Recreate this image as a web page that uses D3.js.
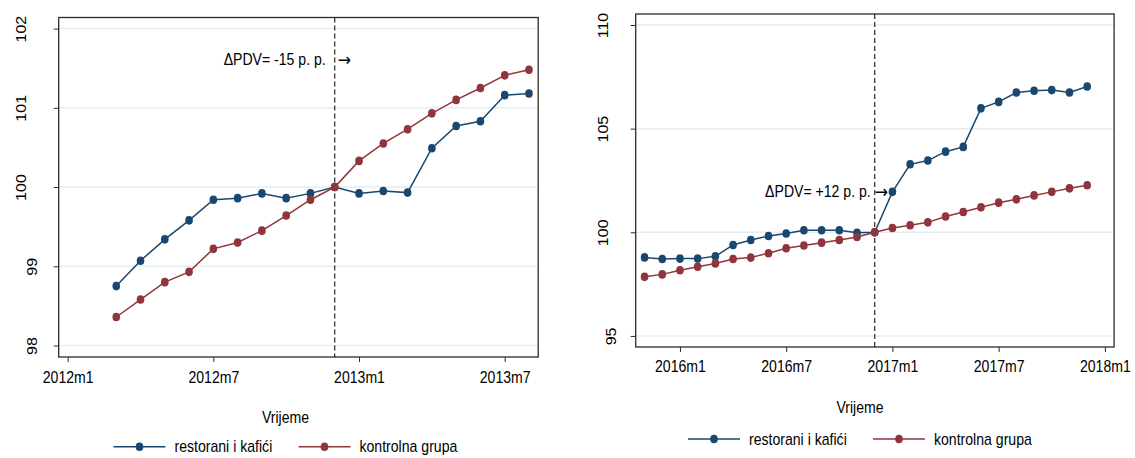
<!DOCTYPE html>
<html><head><meta charset="utf-8">
<script src="https://cdn.jsdelivr.net/npm/d3@7"></script>
<style>
html,body{margin:0;padding:0;background:#fff;}
svg text{font-family:"Liberation Sans",Arial,sans-serif;fill:#000;}
</style></head>
<body>
<svg id="chart" width="1135" height="458"></svg>
<script>
// ---------- DATA ----------
const seriesNames = ["restorani i kafići", "kontrolna grupa"];
const xTitle = "Vrijeme";

// Left panel (2012–2013)
const leftMonths = ["2012m3","2012m4","2012m5","2012m6","2012m7","2012m8","2012m9","2012m10","2012m11","2012m12",
                    "2013m1","2013m2","2013m3","2013m4","2013m5","2013m6","2013m7","2013m8"];
const leftRestorani = [98.75,99.07,99.34,99.58,99.84,99.86,99.92,99.86,99.92,100.00,
                       99.92,99.95,99.93,100.49,100.77,100.83,101.16,101.18];
const leftKontrolna = [98.36,98.58,98.80,98.93,99.22,99.30,99.45,99.64,99.84,100.00,
                       100.33,100.55,100.73,100.93,101.10,101.25,101.41,101.48];
const leftXTicks = ["2012m1","2012m7","2013m1","2013m7"];
const leftYTicks = [98,99,100,101,102];
const leftEvent = "2012m12";
const leftNote = "ΔPDV= -15 p. p.";
const leftNoteY = 101.61;

// Right panel (2015–2017)
const rightMonths = ["2015m11","2015m12","2016m1","2016m2","2016m3","2016m4","2016m5","2016m6","2016m7","2016m8",
                     "2016m9","2016m10","2016m11","2016m12","2017m1","2017m2","2017m3","2017m4","2017m5","2017m6",
                     "2017m7","2017m8","2017m9","2017m10","2017m11","2017m12"];
const rightRestorani = [98.79,98.71,98.73,98.73,98.84,99.39,99.63,99.82,99.94,100.10,
                        100.10,100.10,99.98,100.00,101.95,103.28,103.46,103.89,104.12,105.98,
                        106.29,106.74,106.83,106.86,106.74,107.03];
const rightKontrolna = [97.85,97.97,98.17,98.34,98.50,98.71,98.78,98.99,99.23,99.36,
                        99.50,99.63,99.77,100.00,100.21,100.34,100.48,100.76,100.98,101.21,
                        101.43,101.59,101.78,101.95,102.12,102.27];
const rightXTicks = ["2016m1","2016m7","2017m1","2017m7","2018m1"];
const rightYTicks = [95,100,105,110];
const rightEvent = "2016m12";
const rightNote = "ΔPDV= +12 p. p.";
const rightNoteY = 101.95;

// ---------- STYLE / LAYOUT ----------
const colors = ["#1a476f", "#90353b"];
const SQ = 0.88;       // horizontal text compression of the reference
const FS = 16;
const gridColor = "#e6eef1";
const axisColor = "#2b2b2b";

function mnum(s){ const p = s.split("m"); return (+p[0])*12 + (+p[1]-1); }

const svg = d3.select("#chart");

function txt(g, x, y, str, anchor, rot, size, family){
  const t = g.append("text")
    .attr("transform", `translate(${x},${y}) scale(${SQ},1)` + (rot ? " rotate(-90)" : ""))
    .attr("text-anchor", anchor || "middle")
    .attr("dy", "0.35em")
    .style("font-size", (size||FS) + "px")
    .text(str);
  if (family) t.style("font-family", family);
  return t;
}

function panel(cfg){
  const g = svg.append("g");
  const x = d3.scaleLinear().domain([mnum(cfg.base)+cfg.xd[0], mnum(cfg.base)+cfg.xd[1]]).range([cfg.x0, cfg.x1]);
  const y = d3.scaleLinear().domain(cfg.yd).range([cfg.y1, cfg.y0]);

  // gridlines
  g.append("g").selectAll("line").data(cfg.yTicks).join("line")
    .attr("x1", cfg.x0).attr("x2", cfg.x1)
    .attr("y1", d => y(d)).attr("y2", d => y(d))
    .attr("stroke", gridColor).attr("stroke-width", 1.5);

  // frame
  g.append("rect").attr("x", cfg.x0).attr("y", cfg.y0)
    .attr("width", cfg.x1-cfg.x0).attr("height", cfg.y1-cfg.y0)
    .attr("fill", "none").attr("stroke", axisColor).attr("stroke-width", 1.3);

  // x axis
  const xa = g.append("g").attr("transform", `translate(0,${cfg.y1})`)
    .call(d3.axisBottom(x).tickValues(cfg.xTicks.map(mnum)).tickSize(5)
      .tickFormat(d => cfg.xTicks[cfg.xTicks.map(mnum).indexOf(d)]));
  xa.select(".domain").remove();
  xa.selectAll(".tick line").attr("stroke", axisColor).attr("stroke-width", 1);
  xa.selectAll(".tick text")
    .attr("x", null).attr("y", null).attr("dy", "0.35em")
    .attr("transform", `translate(0,${cfg.tickLabelDy}) scale(${SQ},1)`)
    .style("font-size", FS + "px").style("font-family", '"Liberation Sans",Arial,sans-serif').attr("fill", "#000");

  // y axis
  const ya = g.append("g").attr("transform", `translate(${cfg.x0},0)`)
    .call(d3.axisLeft(y).tickValues(cfg.yTicks).tickSize(5).tickFormat(d3.format("d")));
  ya.select(".domain").remove();
  ya.selectAll(".tick line").attr("stroke", axisColor).attr("stroke-width", 1);
  ya.selectAll(".tick text")
    .attr("x", null).attr("y", null).attr("dy", "0.35em")
    .attr("text-anchor", "middle")
    .attr("transform", d => `translate(${-(String(d).length === 3 ? cfg.yOff3 : cfg.yOff2)},0) scale(${SQ},1) rotate(-90)`)
    .style("font-size", FS + "px").style("font-family", '"Liberation Sans",Arial,sans-serif').attr("fill", "#000");

  // event line
  const ex = x(mnum(cfg.event));
  g.append("line").attr("x1", ex).attr("x2", ex).attr("y1", cfg.y0).attr("y2", cfg.y1)
    .attr("stroke", "#111").attr("stroke-width", 1.1).attr("stroke-dasharray", "5,3");

  // series
  const series = [cfg.s1, cfg.s2];
  const line = d3.line().x(d => x(d[0])).y(d => y(d[1]));
  series.forEach((vals, i) => {
    const pts = cfg.months.map((m, j) => [mnum(m), vals[j]]);
    g.append("path").datum(pts).attr("d", line)
      .attr("fill", "none").attr("stroke", colors[i]).attr("stroke-width", 1.5);
  });
  series.forEach((vals, i) => {
    const pts = cfg.months.map((m, j) => [mnum(m), vals[j]]);
    g.append("g").selectAll("ellipse").data(pts).join("ellipse")
      .attr("cx", d => x(d[0])).attr("cy", d => y(d[1]))
      .attr("rx", 3.8).attr("ry", 4.3).attr("fill", colors[i]);
  });

  // annotation
  txt(g, ex - cfg.noteGap, y(cfg.noteY), cfg.note, "end");
  txt(g, ex + cfg.arrowGap, y(cfg.noteY), "→", "start", false, 18, '"DejaVu Sans",sans-serif');

  // axis title
  txt(g, cfg.cx, cfg.y1 + 60, xTitle, "middle");

  // legend
  const ly = cfg.y1 + cfg.legDy;
  const lx0 = cfg.cx - 172;
  [0,1].forEach(i => {
    const sx = lx0 + i*185;
    g.append("line").attr("x1", sx).attr("x2", sx+52).attr("y1", ly).attr("y2", ly)
      .attr("stroke", colors[i]).attr("stroke-width", 1.5);
    g.append("ellipse").attr("cx", sx+26).attr("cy", ly).attr("rx", 3.8).attr("ry", 4.3).attr("fill", colors[i]);
    txt(g, sx+61, ly, seriesNames[i], "start");
  });
}

panel({
  base: "2012m1", xd: [-0.37, 19.38], yd: [97.855, 102.14],
  x0: 58.7, x1: 538.2, y0: 17.5, y1: 357,
  months: leftMonths, s1: leftRestorani, s2: leftKontrolna,
  xTicks: leftXTicks, yTicks: leftYTicks, event: leftEvent,
  note: leftNote, noteY: leftNoteY, noteGap: 9, arrowGap: 3,
  cx: 285.5, tickLabelDy: 20.5, legDy: 89.7, yOff3: 38, yOff2: 27
});

panel({
  base: "2016m1", xd: [-2.5, 24.52], yd: [94.467, 110.53],
  x0: 635.7, x1: 1114.1, y0: 14, y1: 347,
  months: rightMonths, s1: rightRestorani, s2: rightKontrolna,
  xTicks: rightXTicks, yTicks: rightYTicks, event: rightEvent,
  note: rightNote, noteY: rightNoteY, noteGap: 4, arrowGap: 0,
  cx: 860, tickLabelDy: 19.7, legDy: 92, yOff3: 33, yOff2: 25
});
</script>
</body></html>
